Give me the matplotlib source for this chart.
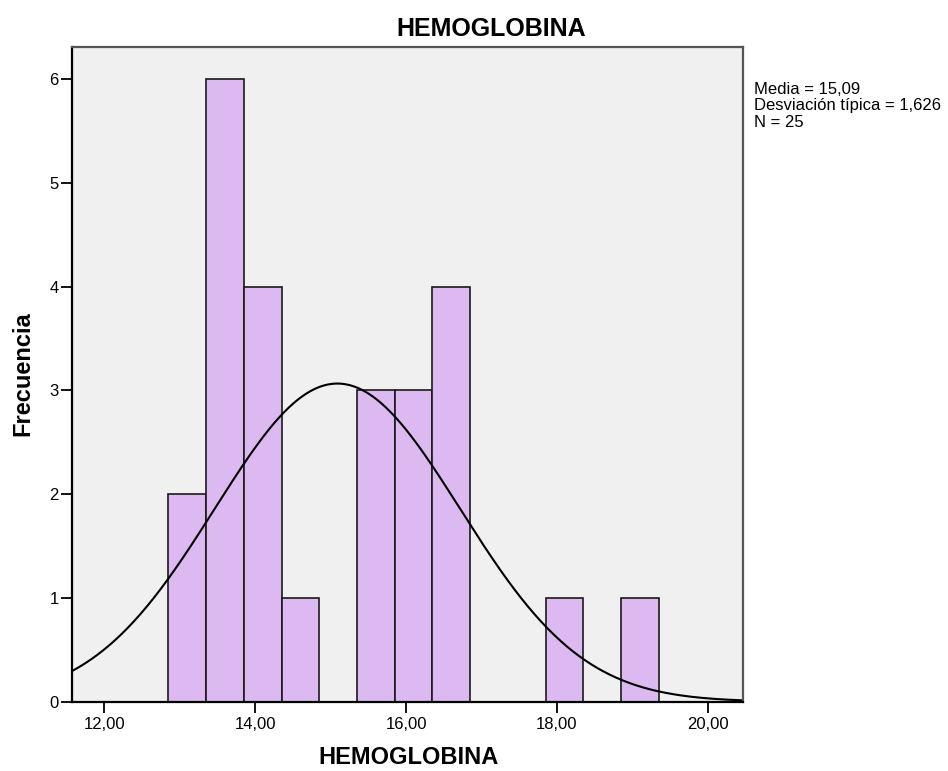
import numpy as np
import matplotlib
matplotlib.use("Agg")
import matplotlib.pyplot as plt

plt.rcParams['font.family'] = ['Liberation Sans', 'DejaVu Sans']

# Data
bin_edges = [12.85, 13.35, 13.85, 14.35, 14.85, 15.35, 15.85, 16.35, 16.85,
             17.35, 17.85, 18.35, 18.85, 19.35]
counts = [2, 6, 4, 1, 0, 3, 3, 4, 0, 0, 1, 0, 1]
mean = 15.09
std = 1.626
n = 25
xticks = [12, 14, 16, 18, 20]
xtick_labels = ["12,00", "14,00", "16,00", "18,00", "20,00"]
yticks = [0, 1, 2, 3, 4, 5, 6]

W, H = 948, 771
fig = plt.figure(figsize=(W / 100, H / 100), dpi=100)
ax = fig.add_axes([71.7 / W, 1 - 701.7 / H, (742.5 - 71.7) / W, (701.7 - 46.7) / H])
ax.set_facecolor('#F0F0F0')

edges = np.array(bin_edges)
widths = np.diff(edges)
ax.bar(edges[:-1], counts, width=widths, align='edge', color='#DDB9F1',
       edgecolor='#1a1a1a', linewidth=1.2)

xlo, xhi = 11.568, 20.46
xs = np.linspace(xlo, xhi, 400)
bw = widths[0]
ys = n * bw / (std * np.sqrt(2 * np.pi)) * np.exp(-0.5 * ((xs - mean) / std) ** 2)
ax.plot(xs, ys, color='black', linewidth=1.5)

ax.set_xlim(xlo, xhi)
ax.set_ylim(0, 6.314)
ax.set_xticks(xticks)
ax.set_xticklabels(xtick_labels)
ax.set_yticks(yticks)
ax.tick_params(axis='both', direction='out', length=8, width=1.3, labelsize=12,
               colors='black')
ax.tick_params(axis='x', pad=3)
ax.tick_params(axis='y', pad=1.5)
for s in ['left', 'bottom']:
    ax.spines[s].set_linewidth(1.6)
    ax.spines[s].set_color('black')
for s in ['top', 'right']:
    ax.spines[s].set_linewidth(1.6)
    ax.spines[s].set_color('#555555')

fig.text(491 / W, 1 - 36 / H, "HEMOGLOBINA", fontsize=18, fontweight='bold',
         ha='center', va='baseline')
fig.text(408 / W, 1.5 / H, "HEMOGLOBINA", fontsize=17, fontweight='bold',
         ha='center', va='bottom')
fig.text(22.5 / W, 1 - 373.5 / H, "Frecuencia", fontsize=17, fontweight='bold',
         ha='center', va='center', rotation=90)

fig.text(754.5 / W, 1 - 82 / H,
         "Media = 15,09\nDesviación típica = 1,626\nN = 25",
         fontsize=12, va='top', ha='left', linespacing=1.12)

fig.savefig("out.png", dpi=100)
